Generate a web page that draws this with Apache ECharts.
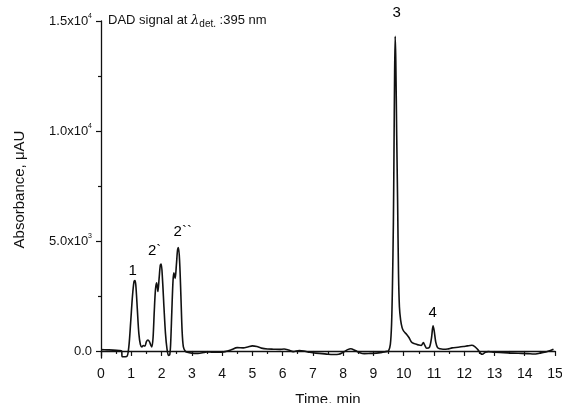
<!DOCTYPE html>
<html>
<head>
<meta charset="utf-8">
<script src="https://cdn.jsdelivr.net/npm/echarts@6/dist/echarts.min.js"></script>
<style>
  html, body { margin: 0; padding: 0; background: #fff; }
  #chart { width: 562px; height: 403px; }
</style>
</head>
<body>
<div id="chart"></div>
<script>
// ---------------- data ----------------
var times = [
  0.00, 0.20, 0.40, 0.60, 0.68, 0.70, 0.85, 0.92, 0.98, 1.04, 1.09, 1.12, 1.15, 1.20, 1.25, 1.30,
  1.35, 1.40, 1.45, 1.50, 1.55, 1.60, 1.65, 1.68, 1.72, 1.76, 1.80, 1.84, 1.88, 1.92, 1.96, 1.99,
  2.03, 2.08, 2.13, 2.18, 2.23, 2.27, 2.30, 2.34, 2.38, 2.41, 2.45, 2.49, 2.53, 2.56, 2.60, 2.64,
  2.68, 2.72, 2.78, 2.85, 3.00, 3.20, 3.40, 3.50, 3.70, 3.90, 4.10, 4.30, 4.50, 4.70, 4.85, 5.00,
  5.15, 5.30, 5.50, 5.70, 5.90, 6.05, 6.20, 6.35, 6.55, 6.70, 6.90, 7.10, 7.30, 7.50, 7.70, 7.85,
  8.00, 8.15, 8.25, 8.40, 8.55, 8.70, 8.90, 9.10, 9.30, 9.45, 9.50, 9.56, 9.60, 9.63, 9.66, 9.68,
  9.70, 9.72, 9.74, 9.77, 9.80, 9.83, 9.86, 9.90, 9.95, 10.00, 10.10, 10.18, 10.25, 10.32, 10.40, 10.50,
  10.58, 10.65, 10.70, 10.76, 10.85, 10.92, 10.97, 11.01, 11.06, 11.12, 11.20, 11.30, 11.45, 11.60, 11.80, 11.97,
  12.10, 12.25, 12.35, 12.45, 12.55, 12.60, 12.70, 12.80, 13.00, 13.30, 13.60, 13.90, 14.10, 14.30, 14.50, 14.70,
  14.85, 14.95
];
var absorbance = [
  60, 50, 40, 20, 0, -260, -250, 200, 1300, 2500, 3150, 3200, 3000, 1900, 800, 300,
  180, 250, 220, 420, 500, 420, 250, 180, 600, 1800, 2800, 3100, 2700, 3300, 3900, 3950,
  3300, 2000, 800, 100, -200, -180, 300, 1800, 3200, 3550, 3300, 3900, 4600, 4700, 4000, 2500,
  900, 200, 0, -60, -100, -110, -70, -40, -60, -60, -30, 50, 150, 140, 180, 230,
  200, 130, 90, 80, 70, 90, 40, -30, 20, 0, -60, -100, -120, -150, -160, -150,
  -60, 60, 100, 20, -80, -120, -110, -100, -60, -20, 0, 300, 1200, 3000, 5800, 9000,
  12500, 14300, 13200, 9800, 6800, 3500, 2000, 1400, 1050, 900, 750, 600, 420, 350, 320, 270,
  250, 380, 250, 120, 160, 600, 1140, 900, 400, 150, 100, 80, 90, 140, 170, 200,
  230, 260, 200, 60, -120, -150, -60, -30, -60, -75, -100, -110, -120, -140, -100, -45,
  20, 80
];
var peakNames = ['1', '2`', '2``', '3', '4'];
var peakTimes = [1.05, 1.77, 2.70, 9.77, 10.96];
var peakLevels = [3650, 4560, 5400, 15360, 1730];
var yMajor = [0, 5000, 10000, 15000];
var yMinor = [2500, 7500, 12500];
var yLabelText = ['0.0', '5.0x10|3', '1.0x10|4', '1.5x10|4'];

// ---------------- build ----------------
var trace = [];
for (var i = 0; i < times.length; i++) {
  trace.push([times[i], absorbance[i]]);
}
var peakPoints = [];
for (var j = 0; j < peakNames.length; j++) {
  peakPoints.push({ value: [peakTimes[j], peakLevels[j]], name: peakNames[j] });
}

var font = 'Liberation Sans, Arial, sans-serif';
var ink = '#111';
var yRange = { min: -320, max: 15000 };

function yLabel(v) {
  var k = yMajor.indexOf(v);
  if (k < 0) return '';
  var parts = yLabelText[k].split('|');
  if (parts.length === 1) return '{a|' + parts[0] + '}';
  return '{a|' + parts[0] + '}{s|' + parts[1] + '}';
}

var option = {
  animation: false,
  backgroundColor: '#fff',
  grid: { left: 101, right: 7, top: 21, bottom: 45, containLabel: false, outerBoundsMode: 'none' },
  xAxis: {
    type: 'value',
    min: 0, max: 15, interval: 1,
    name: 'Time, min',
    nameLocation: 'middle',
    nameGap: 34,
    nameTextStyle: { fontFamily: font, fontSize: 15, color: ink, verticalAlign: 'top' },
    axisLine: { lineStyle: { color: ink, width: 1.3 } },
    axisTick: { length: 5, lineStyle: { color: ink, width: 1.2 } },
    minorTick: { show: true, splitNumber: 2, length: 3, lineStyle: { color: ink, width: 1.2 } },
    splitLine: { show: false },
    axisLabel: { fontFamily: font, fontSize: 14, color: ink, margin: 9 }
  },
  yAxis: [{
    type: 'value',
    min: yRange.min, max: yRange.max,
    name: 'Absorbance, \u03bcAU',
    nameLocation: 'middle',
    nameGap: 74,
    nameTextStyle: { fontFamily: font, fontSize: 15, color: ink },
    axisLine: { show: true, lineStyle: { color: ink, width: 1.3 } },
    axisTick: { show: true, length: 5, customValues: yMajor, lineStyle: { color: ink, width: 1.2 } },
    splitLine: { show: false },
    axisLabel: {
      customValues: yMajor,
      margin: 9,
      formatter: yLabel,
      rich: {
        a: { fontFamily: font, fontSize: 13, color: ink },
        s: { fontFamily: font, fontSize: 7, color: ink, padding: [0, 0, 10, 0] }
      }
    }
  }, {
    type: 'value',
    position: 'left',
    min: yRange.min, max: yRange.max,
    axisLine: { show: false },
    axisTick: { show: true, length: 3, customValues: yMinor, lineStyle: { color: ink, width: 1.2 } },
    axisLabel: { show: false },
    splitLine: { show: false }
  }],
  graphic: [{
    type: 'text',
    left: 108, top: 14,
    style: {
      text: '{n|DAD signal at }{l|\u03bb}{d|det.}{n| :395 nm}',
      rich: {
        n: { fontFamily: font, fontSize: 13, fill: ink },
        l: { fontFamily: 'DejaVu Serif, serif', fontStyle: 'italic', fontSize: 13, fill: ink },
        d: { fontFamily: font, fontSize: 10, fill: ink, padding: [8, 0, 0, 0] }
      }
    }
  }],
  series: [{
    type: 'line',
    data: trace,
    showSymbol: false,
    smooth: 0.3,
    lineStyle: { color: ink, width: 1.6 },
    clip: true
  }, {
    type: 'scatter',
    data: peakPoints,
    symbolSize: 0,
    clip: false,
    silent: true,
    itemStyle: { color: ink, opacity: 1 },
    label: {
      show: true,
      position: 'inside',
      formatter: '{b}',
      fontFamily: font,
      fontSize: 15,
      color: '#000',
      opacity: 1,
      textBorderWidth: 0
    }
  }]
};

echarts.init(document.getElementById('chart')).setOption(option);
</script>
</body>
</html>
